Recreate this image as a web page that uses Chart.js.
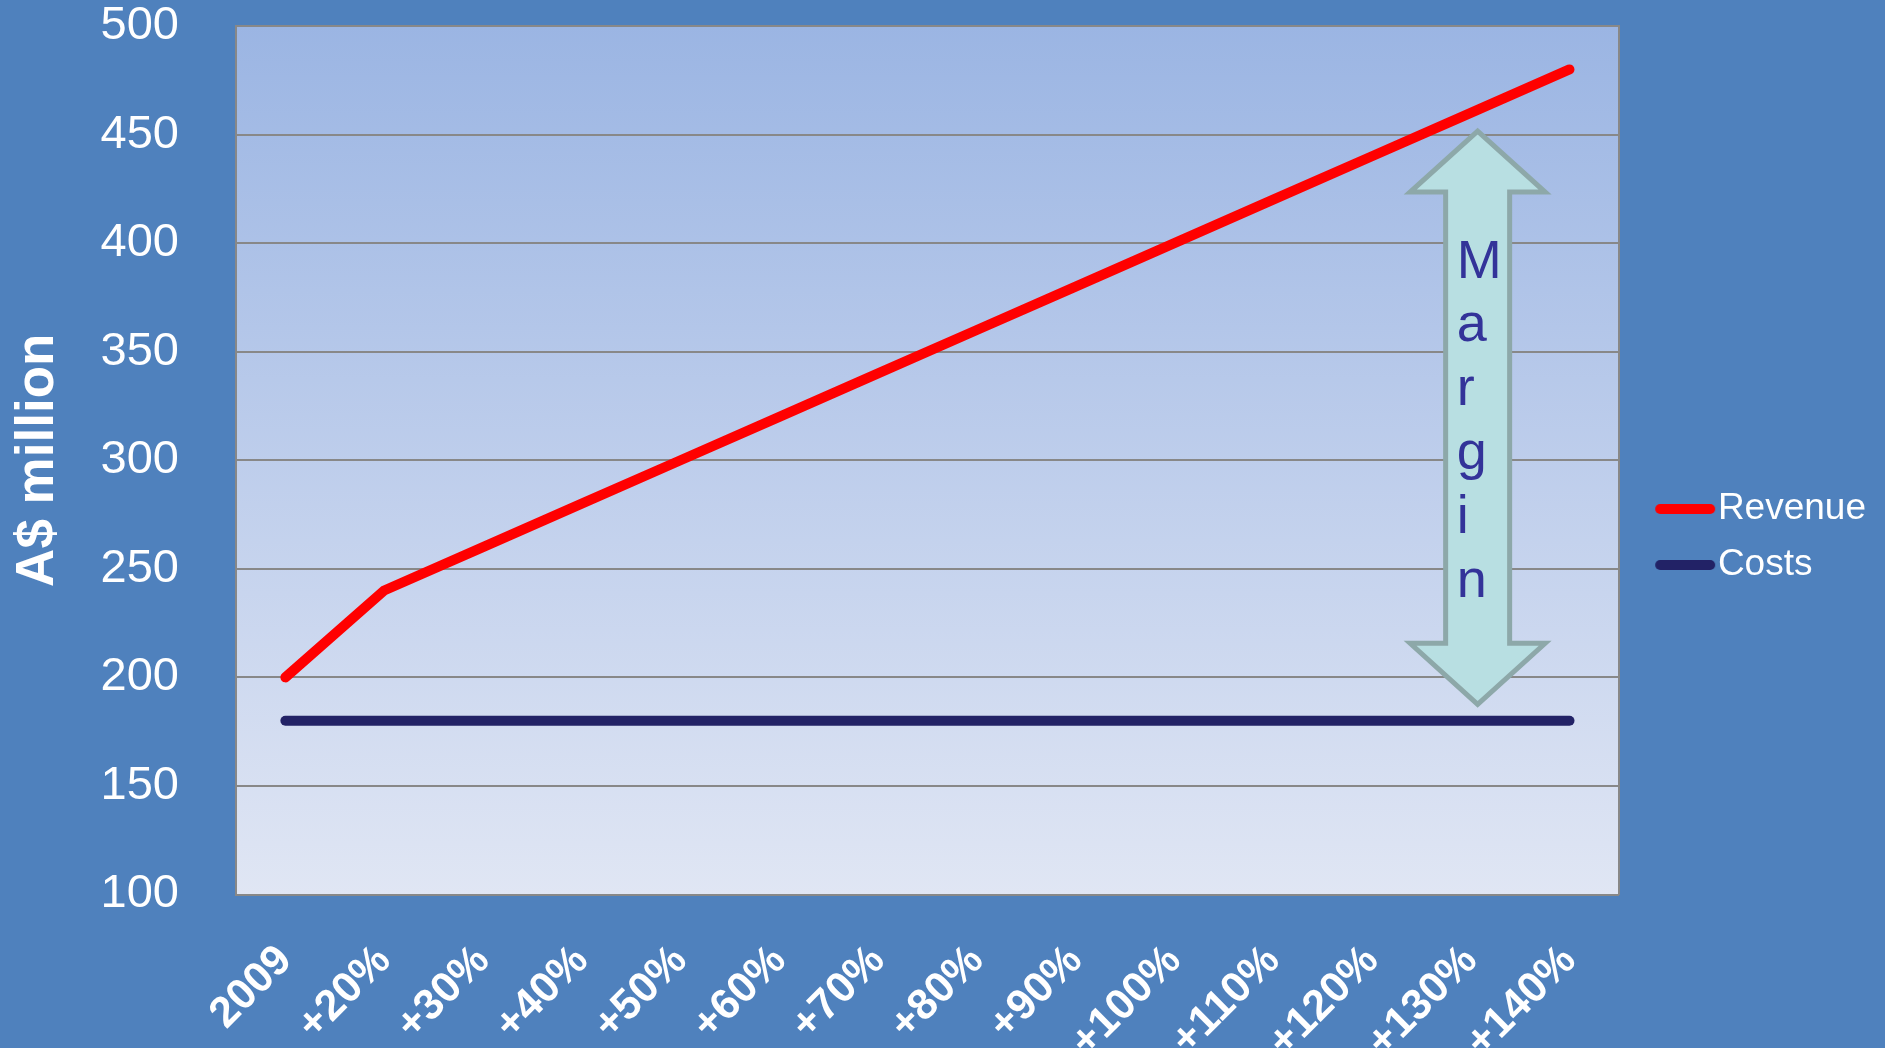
<!DOCTYPE html>
<html>
<head>
<meta charset="utf-8">
<script src="https://cdn.jsdelivr.net/npm/chart.js@4"></script>
<style>
  html, body { margin: 0; padding: 0; background: #4F81BD; overflow: hidden; }
  #wrap { width: 1885px; height: 1048px; }
</style>
</head>
<body>
<div id="wrap"><canvas id="line-chart"></canvas></div>
<script>
// data
const categories = ['2009', '+20%', '+30%', '+40%', '+50%', '+60%', '+70%', '+80%', '+90%', '+100%', '+110%', '+120%', '+130%', '+140%'];
const revenue = [200, 240, 260, 280, 300, 320, 340, 360, 380, 400, 420, 440, 460, 480];
const costs = [180, 180, 180, 180, 180, 180, 180, 180, 180, 180, 180, 180, 180, 180];
const yTicks = [100, 150, 200, 250, 300, 350, 400, 450, 500];
const marginLabel = 'Margin';

const FONT = "'Liberation Sans', Arial, sans-serif";
const RED = '#FF0000';
const NAVY = '#222266';

// legend symbol: a short thick line, drawn left in a wider image
function legendLine(color) {
  const c = document.createElement('canvas');
  c.width = 78;
  c.height = 12;
  const g = c.getContext('2d');
  g.strokeStyle = color;
  g.lineWidth = 10;
  g.lineCap = 'round';
  g.beginPath();
  g.moveTo(22, 6);
  g.lineTo(72, 6);
  g.stroke();
  return c;
}

// gradient behind the plot
const plotBg = {
  id: 'plotBg',
  beforeDraw(chart) {
    const { ctx, chartArea: a } = chart;
    const g = ctx.createLinearGradient(0, a.top, 0, a.bottom);
    g.addColorStop(0, '#9BB5E3');
    g.addColorStop(1, '#E0E6F4');
    ctx.save();
    ctx.fillStyle = g;
    ctx.fillRect(a.left, a.top, a.right - a.left, a.bottom - a.top);
    ctx.restore();
  }
};

// the double arrow with "Margin"
const marginArrow = {
  id: 'marginArrow',
  afterDatasetsDraw(chart) {
    const { ctx, scales: { x, y } } = chart;
    const cx = x.getPixelForValue(12.07);
    const top = y.getPixelForValue(451.6);
    const bot = y.getPixelForValue(187.6);
    const head = 61, hw = 67.5, sw = 32;
    ctx.save();
    ctx.beginPath();
    ctx.moveTo(cx, top);
    ctx.lineTo(cx + hw, top + head);
    ctx.lineTo(cx + sw, top + head);
    ctx.lineTo(cx + sw, bot - head);
    ctx.lineTo(cx + hw, bot - head);
    ctx.lineTo(cx, bot);
    ctx.lineTo(cx - hw, bot - head);
    ctx.lineTo(cx - sw, bot - head);
    ctx.lineTo(cx - sw, top + head);
    ctx.lineTo(cx - hw, top + head);
    ctx.closePath();
    ctx.fillStyle = '#B8DFE2';
    ctx.fill();
    ctx.lineWidth = 5;
    ctx.lineJoin = 'miter';
    ctx.strokeStyle = '#8DA8A9';
    ctx.stroke();

    ctx.fillStyle = '#333399';
    ctx.font = '54px ' + FONT;
    ctx.textAlign = 'left';
    ctx.textBaseline = 'alphabetic';
    marginLabel.split('').forEach((ch, i) => {
      ctx.fillText(ch, cx - 21, top + 146.5 + i * 63.8);
    });
    ctx.restore();
  }
};

new Chart(document.getElementById('line-chart'), {
  type: 'line',
  data: {
    labels: categories,
    datasets: [
      {
        label: 'Revenue',
        data: revenue,
        borderColor: RED,
        backgroundColor: RED,
        borderWidth: 10,
        borderCapStyle: 'round',
        borderJoinStyle: 'round',
        pointRadius: 0,
        pointStyle: legendLine(RED),
        tension: 0
      },
      {
        label: 'Costs',
        data: costs,
        borderColor: NAVY,
        backgroundColor: NAVY,
        borderWidth: 10,
        borderCapStyle: 'round',
        borderJoinStyle: 'round',
        pointRadius: 0,
        pointStyle: legendLine(NAVY),
        tension: 0
      }
    ]
  },
  options: {
    responsive: true,
    maintainAspectRatio: false,
    animation: false,
    layout: { padding: { left: 0, top: 26, right: 9, bottom: 0 } },
    plugins: {
      tooltip: { enabled: false },
      legend: {
        position: 'right',
        align: 'center',
        labels: {
          color: '#FFFFFF',
          font: { family: FONT, size: 37 },
          usePointStyle: true,
          pointStyleWidth: 44.5,
          padding: 19
        }
      }
    },
    scales: {
      x: {
        offset: true,
        grid: { display: false, drawTicks: false },
        border: { display: true, color: '#888888', width: 2 },
        ticks: {
          color: '#FFFFFF',
          font: { family: FONT, size: 43, weight: 'bold' },
          maxRotation: 45,
          minRotation: 45,
          autoSkip: false,
          padding: 41
        },
        afterFit(scale) { scale.height = 153.5; }
      },
      y: {
        min: yTicks[0],
        max: yTicks[yTicks.length - 1],
        afterBuildTicks(scale) { scale.ticks = yTicks.map(v => ({ value: v })); },
        grid: {
          color: '#888888',
          lineWidth: 2,
          drawTicks: true,
          tickLength: 57,
          tickColor: 'rgba(0,0,0,0)'
        },
        border: { display: true, color: '#888888', width: 2 },
        ticks: {
          color: '#FFFFFF',
          font: { family: FONT, size: 47, lineHeight: 1.1 },
          padding: 0
        },
        title: {
          display: true,
          text: 'A$ million',
          color: '#FFFFFF',
          font: { family: FONT, size: 53, weight: 'bold', lineHeight: 1.2 },
          padding: { top: 7, bottom: 0 }
        },
        afterFit(scale) { scale.width = 236; }
      },
      // empty axis on the right: only its border, used as the plot's right edge
      yRight: {
        position: 'right',
        display: true,
        grid: { display: false, drawTicks: false },
        border: { display: true, color: '#888888', width: 2 },
        ticks: { display: false },
        afterFit(scale) { scale.width = 17; }
      }
    }
  },
  plugins: [plotBg, marginArrow]
});
</script>
</body>
</html>
